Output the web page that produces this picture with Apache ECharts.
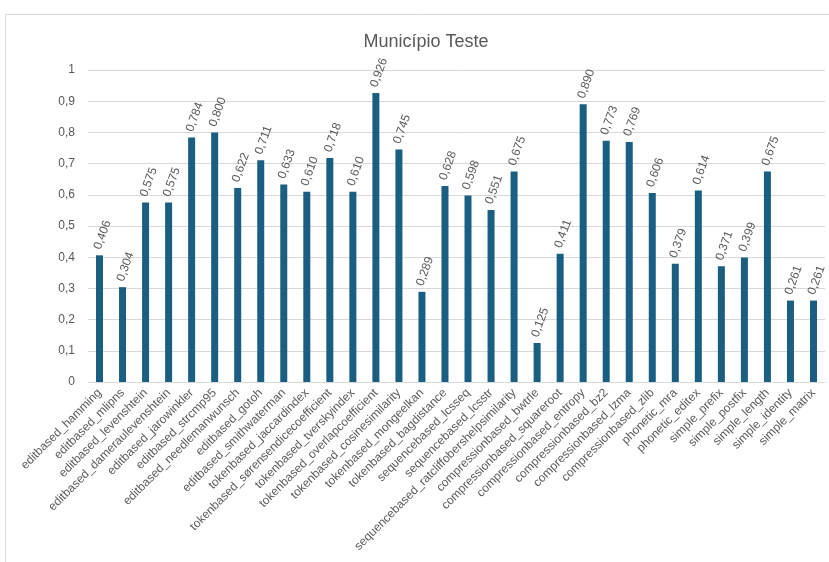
<!DOCTYPE html>
<html>
<head>
<meta charset="utf-8">
<script src="https://cdn.jsdelivr.net/npm/echarts@6/dist/echarts.min.js"></script>
<style>
  html, body { margin: 0; padding: 0; background: #ffffff; }
  #chart { width: 829px; height: 562px; }
</style>
</head>
<body>
<div id="chart"></div>
<script>
const titleText = 'Município Teste';

const categories = [
  'editbased_hamming', 'editbased_mlipns', 'editbased_levenshtein', 'editbased_dameraulevenshtein',
  'editbased_jarowinkler', 'editbased_strcmp95', 'editbased_needlemanwunsch', 'editbased_gotoh',
  'editbased_smithwaterman', 'tokenbased_jaccardindex', 'tokenbased_sørensendicecoefficient',
  'tokenbased_tverskyindex', 'tokenbased_overlapcoefficient', 'tokenbased_cosinesimilarity',
  'tokenbased_mongeelkan', 'tokenbased_bagdistance', 'sequencebased_lcsseq', 'sequencebased_lcsstr',
  'sequencebased_ratcliffobershelpsimilarity', 'compressionbased_bwtrle', 'compressionbased_squareroot',
  'compressionbased_entropy', 'compressionbased_bz2', 'compressionbased_lzma', 'compressionbased_zlib',
  'phonetic_mra', 'phonetic_editex', 'simple_prefix', 'simple_postfix', 'simple_length',
  'simple_identity', 'simple_matrix'
];

const scores = [
  0.406, 0.304, 0.575, 0.575, 0.784, 0.800, 0.622, 0.711, 0.633, 0.610, 0.718,
  0.610, 0.926, 0.745, 0.289, 0.628, 0.598, 0.551, 0.675, 0.125, 0.411,
  0.890, 0.773, 0.769, 0.606, 0.379, 0.614, 0.371, 0.399, 0.675, 0.261, 0.261
];

const yTicks = [0, 0.1, 0.2, 0.3, 0.4, 0.5, 0.6, 0.7, 0.8, 0.9, 1];

const textColor = '#595959';
const fontFamily = '"Liberation Sans", Arial, sans-serif';
const comma = v => String(v).replace('.', ',');

const chart = echarts.init(document.getElementById('chart'), null, { renderer: 'canvas' });

chart.setOption({
  animation: false,
  backgroundColor: '#ffffff',
  graphic: [{
    type: 'rect',
    shape: { x: 5.5, y: 14.5, width: 900, height: 700 },
    style: { fill: 'none', stroke: '#d9d9d9', lineWidth: 1 },
    silent: true,
    z: -1
  }],
  title: {
    text: titleText,
    left: 421,
    top: 28,
    textAlign: 'center',
    textStyle: {
      color: textColor,
      fontSize: 18,
      fontWeight: 'normal',
      fontFamily: '"Liberation Sans Narrow", "Liberation Sans", Arial, sans-serif'
    }
  },
  grid: { left: 88, right: 4, top: 70, bottom: 180, containLabel: false },
  xAxis: {
    type: 'category',
    data: categories,
    axisLine: { lineStyle: { color: '#d9d9d9' } },
    axisTick: { show: false },
    axisLabel: {
      interval: 0,
      rotate: 45,
      margin: 9,
      color: textColor,
      fontSize: 12,
      fontFamily: fontFamily
    }
  },
  yAxis: {
    type: 'value',
    min: yTicks[0],
    max: yTicks[yTicks.length - 1],
    interval: 0.1,
    axisLine: { show: false },
    axisTick: { show: false },
    splitLine: { lineStyle: { color: '#d9d9d9', width: 1 } },
    axisLabel: {
      margin: 13,
      color: textColor,
      fontSize: 12,
      fontFamily: fontFamily,
      formatter: v => comma(Math.round(v * 10) / 10)
    }
  },
  series: [{
    type: 'bar',
    data: scores,
    barWidth: 7,
    itemStyle: { color: '#1a5e82' },
    label: {
      show: true,
      position: 'top',
      distance: 12,
      rotate: 70,
      align: 'left',
      verticalAlign: 'middle',
      offset: [-6, 0],
      color: textColor,
      fontSize: 12,
      fontFamily: fontFamily,
      formatter: p => p.value.toFixed(3).replace('.', ',')
    }
  }]
});
</script>
</body>
</html>
